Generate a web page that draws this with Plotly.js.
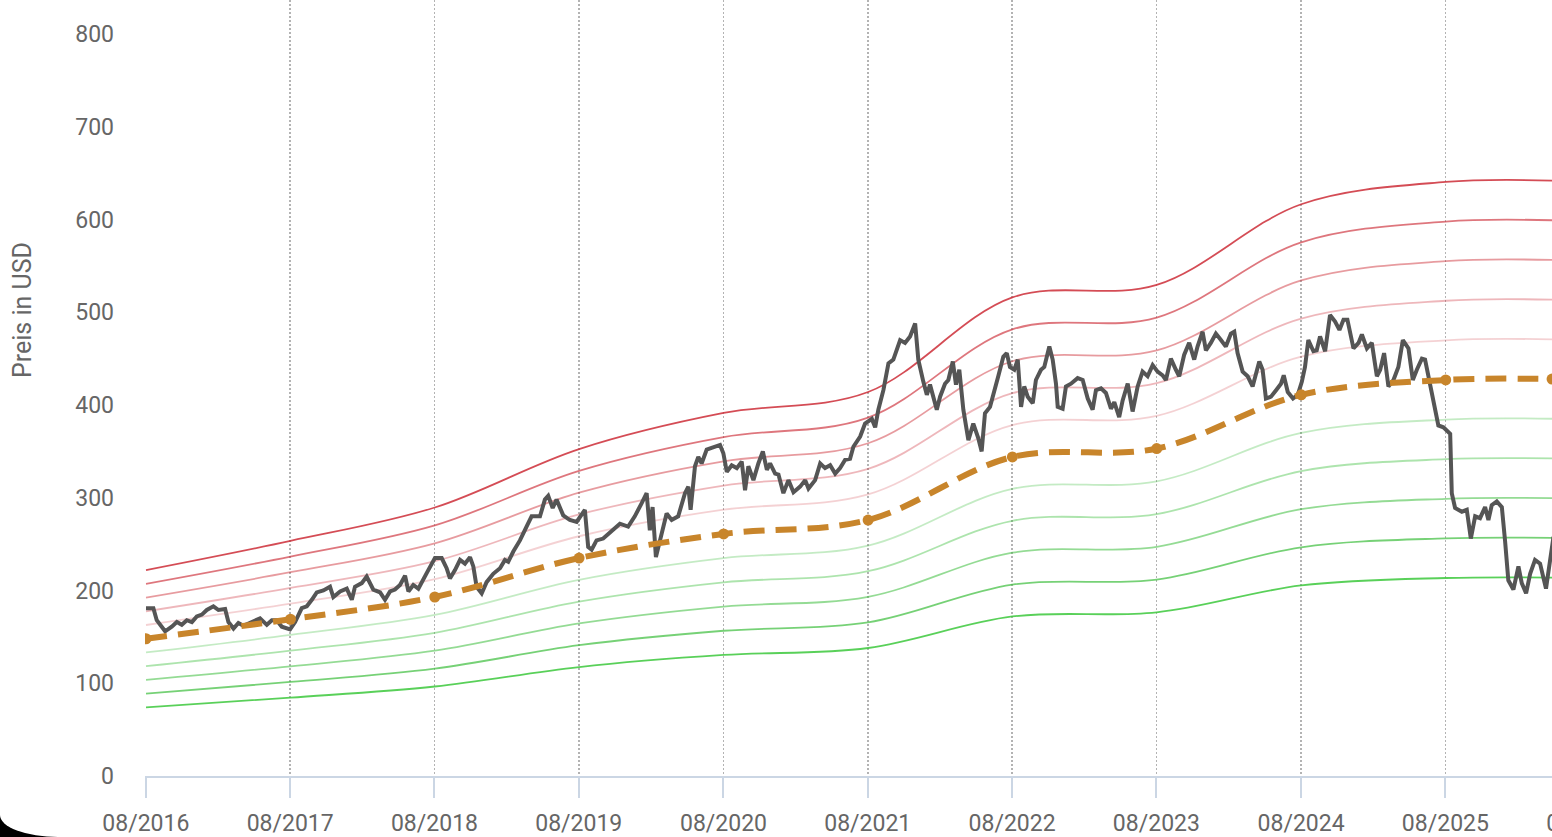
<!DOCTYPE html>
<html>
<head>
<meta charset="utf-8">
<script src="https://cdn.plot.ly/plotly-3.0.1.min.js"></script>
<style>
  html, body { margin: 0; padding: 0; background: #fff; overflow: hidden; width: 1552px; height: 837px; }
  #chart { width: 1720px; height: 837px; }
  #corner { position: absolute; left: 0; bottom: 0; width: 58px; height: 22px; background: #000; }
  #corner div { width: 100%; height: 100%; background: #fff; border-bottom-left-radius: 58px 22px; }
</style>
</head>
<body>
<div id="chart"></div>
<div id="corner"><div></div></div>
<script>
// Fair value anchor points (decimal years) and values in USD
const fairT = [2016.583, 2017.583, 2018.583, 2019.583, 2020.583, 2021.583, 2022.583, 2023.583, 2024.583, 2025.583, 2026.32];
const fairV = [148, 169, 193, 235, 261, 276, 344, 353, 411, 427, 428];

// Band multipliers relative to fair value (top red -> bottom green)
const bandFactors = [1.5, 1.4, 1.3, 1.2, 1.1, 0.9, 0.8, 0.7, 0.6, 0.5];
const bandColors = [
  'rgba(205,45,55,0.85)', 'rgba(205,45,55,0.65)', 'rgba(205,45,55,0.48)', 'rgba(205,45,55,0.34)', 'rgba(205,45,55,0.22)',
  'rgba(60,190,60,0.30)', 'rgba(60,190,60,0.42)', 'rgba(60,190,60,0.55)', 'rgba(60,190,60,0.70)', 'rgba(60,200,60,0.85)'
];

// Share price (decimal years, USD)
const priceT = [
2016.583,2016.634,2016.657,2016.715,2016.761,2016.796,2016.830,2016.865,2016.900,2016.934,2016.969,2017.003,2017.049,2017.084,2017.130,2017.153,2017.188,2017.222,2017.257,2017.303,2017.338,2017.372,2017.419,2017.454,2017.488,2017.523,2017.580,2017.615,2017.661,2017.696,2017.731,2017.765,2017.811,2017.857,2017.880,2017.927,2017.973,2018.008,2018.030,2018.077,2018.111,2018.157,2018.204,2018.238,2018.273,2018.307,2018.342,2018.377,2018.400,2018.434,2018.469,2018.503,2018.538,2018.584,2018.631,2018.665,2018.688,2018.723,2018.758,2018.792,2018.827,2018.850,2018.873,2018.908,2018.942,2018.988,2019.035,2019.069,2019.092,2019.127,2019.173,2019.219,2019.254,2019.312,2019.346,2019.369,2019.400,2019.427,2019.473,2019.519,2019.566,2019.623,2019.646,2019.670,2019.704,2019.750,2019.785,2019.819,2019.866,2019.923,2019.969,2020.016,2020.051,2020.073,2020.092,2020.115,2020.143,2020.189,2020.224,2020.269,2020.316,2020.339,2020.355,2020.385,2020.408,2020.431,2020.466,2020.512,2020.558,2020.581,2020.605,2020.639,2020.674,2020.708,2020.731,2020.754,2020.789,2020.823,2020.854,2020.882,2020.904,2020.939,2020.962,2020.996,2021.031,2021.066,2021.112,2021.147,2021.170,2021.216,2021.251,2021.285,2021.320,2021.355,2021.389,2021.424,2021.458,2021.481,2021.528,2021.562,2021.609,2021.632,2021.654,2021.689,2021.724,2021.758,2021.782,2021.805,2021.839,2021.874,2021.909,2021.931,2021.966,2021.990,2022.012,2022.035,2022.059,2022.082,2022.116,2022.139,2022.170,2022.192,2022.215,2022.243,2022.278,2022.312,2022.347,2022.370,2022.393,2022.428,2022.463,2022.485,2022.520,2022.544,2022.566,2022.596,2022.620,2022.643,2022.665,2022.689,2022.724,2022.746,2022.781,2022.804,2022.839,2022.862,2022.885,2022.897,2022.931,2022.954,2022.989,2023.035,2023.070,2023.105,2023.139,2023.162,2023.197,2023.231,2023.266,2023.289,2023.323,2023.347,2023.382,2023.416,2023.451,2023.485,2023.520,2023.555,2023.589,2023.624,2023.647,2023.681,2023.716,2023.739,2023.773,2023.808,2023.843,2023.866,2023.901,2023.924,2023.958,2023.993,2024.028,2024.062,2024.097,2024.120,2024.143,2024.178,2024.213,2024.247,2024.293,2024.316,2024.339,2024.374,2024.409,2024.443,2024.462,2024.490,2024.526,2024.559,2024.587,2024.609,2024.632,2024.667,2024.690,2024.713,2024.748,2024.782,2024.817,2024.847,2024.875,2024.902,2024.944,2024.979,2025.002,2025.037,2025.071,2025.106,2025.129,2025.156,2025.186,2025.221,2025.255,2025.286,2025.325,2025.355,2025.383,2025.418,2025.440,2025.475,2025.510,2025.532,2025.567,2025.614,2025.625,2025.648,2025.695,2025.729,2025.757,2025.787,2025.821,2025.856,2025.879,2025.902,2025.937,2025.972,2025.994,2026.017,2026.052,2026.087,2026.110,2026.140,2026.168,2026.202,2026.237,2026.278,2026.330
];
const priceV = [
181,181,168,156,161,166,163,168,166,172,174,179,183,179,180,166,159,165,162,165,168,170,163,168,168,161,158,166,181,183,190,198,200,204,193,199,202,190,204,208,215,201,198,190,199,201,206,216,199,206,202,211,222,235,235,224,213,222,233,229,236,226,204,197,209,218,224,233,231,242,254,269,280,280,298,302,289,298,281,276,274,287,247,244,254,256,261,265,272,269,280,294,305,265,290,236,254,283,276,280,305,312,287,334,344,337,352,355,357,348,328,335,332,339,308,334,319,337,350,330,337,326,325,305,319,306,312,319,310,319,337,332,335,326,332,341,342,355,366,380,385,376,395,416,445,449,459,470,467,474,488,449,425,411,422,409,395,409,423,427,447,422,438,395,362,380,364,350,391,398,416,431,452,456,441,438,449,398,420,409,402,427,438,441,463,449,423,398,396,420,423,429,427,407,395,416,418,413,396,403,387,405,423,393,420,436,431,443,436,432,427,450,438,431,454,467,449,463,479,459,467,477,470,463,477,479,456,436,431,420,447,438,407,409,416,423,432,414,407,411,425,441,470,458,459,474,458,497,490,481,492,492,461,467,476,461,467,431,438,456,420,427,441,470,461,427,438,450,449,423,395,378,376,369,305,289,285,287,256,280,278,290,276,292,296,290,254,211,201,226,208,197,218,233,229,202,258
];

// X tick labels
const tickYears = [2016, 2017, 2018, 2019, 2020, 2021, 2022, 2023, 2024, 2025, 2026];
const tickLabels = tickYears.map(y => '08/' + y);
const tickVals = tickYears.map(y => y + '-08-01');

function decToDate(t) {
  const y = Math.floor(t);
  const s = Date.UTC(y, 0, 1), e = Date.UTC(y + 1, 0, 1);
  return new Date(s + (t - y) * (e - s)).toISOString().slice(0, 19).replace('T', ' ');
}

const fairX = fairT.map(decToDate);
const priceX = priceT.map(decToDate);

const traces = [];
bandFactors.forEach((f, i) => {
  traces.push({
    x: fairX, y: fairV.map(v => v * f), type: 'scatter', mode: 'lines',
    line: { color: bandColors[i], width: 1.8, shape: 'spline', smoothing: 1 },
    hoverinfo: 'skip'
  });
});
traces.push({
  x: priceX, y: priceV, type: 'scatter', mode: 'lines',
  line: { color: '#555555', width: 4 }
});
traces.push({
  x: fairX, y: fairV, type: 'scatter', mode: 'lines+markers',
  line: { color: '#c8852b', width: 6, dash: '21px,11px', shape: 'spline', smoothing: 1 },
  marker: { color: '#c8852b', size: 11 }
});

const layout = {
  width: 1720, height: 837,
  margin: { l: 145, r: 60, t: 0, b: 61 },
  paper_bgcolor: '#ffffff', plot_bgcolor: '#ffffff',
  showlegend: false,
  font: { family: 'Roboto, sans-serif', color: '#666666', size: 23 },
  xaxis: {
    type: 'date',
    range: [decToDate(2016.576), decToDate(2027.068)],
    tickvals: tickVals, ticktext: tickLabels,
    showgrid: true, gridcolor: '#b3b3b3', gridwidth: 1.5, griddash: '2px,2px',
    showline: true, linecolor: '#cbd6e4', linewidth: 2,
    ticks: 'outside', ticklen: 20, tickwidth: 2, tickcolor: '#cbd6e4',
    ticklabelstandoff: 5,
    tickfont: { size: 23, color: '#666666' },
    zeroline: false, fixedrange: true
  },
  yaxis: {
    range: [0, 836.7],
    tickvals: [0, 100, 200, 300, 400, 500, 600, 700, 800],
    showgrid: false, zeroline: false, showline: false,
    ticks: '', ticklabelstandoff: 30,
    tickfont: { size: 23, color: '#666666' },
    fixedrange: true
  },
  annotations: [{
    text: 'Preis in USD', xref: 'paper', yref: 'paper',
    x: -0.0812, y: 0.6005, xanchor: 'center', yanchor: 'middle',
    textangle: -90, showarrow: false,
    font: { size: 25, color: '#666666', family: 'Roboto, sans-serif' }
  }]
};

Plotly.newPlot('chart', traces, layout, { staticPlot: true, displayModeBar: false });
</script>
</body>
</html>
